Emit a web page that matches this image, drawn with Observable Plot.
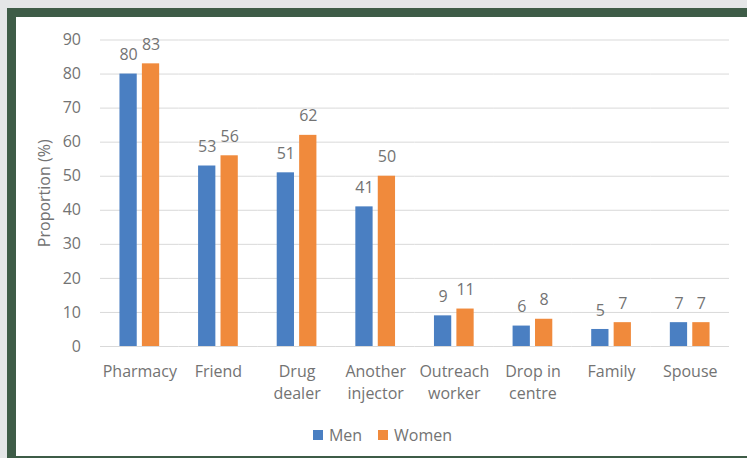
<!DOCTYPE html>
<html>
<head>
<meta charset="utf-8">
<script src="https://cdn.jsdelivr.net/npm/d3@7"></script>
<script src="https://cdn.jsdelivr.net/npm/@observablehq/plot@0.6"></script>
<style>
  html, body { margin: 0; padding: 0; }
  body { width: 747px; height: 458px; background: #e4e6e7; position: relative; overflow: hidden; font-family: 'Open Sans', sans-serif; }
  #frame { position: absolute; left: 7px; top: 8px; width: 740px; height: 450px; background: #3e5c47; }
  #panel { position: absolute; left: 16px; top: 17px; width: 731px; height: 439px; background: #ffffff; }
  #chart { position: absolute; left: 16px; top: 17px; }
  #legend { position: absolute; left: 0; top: 424px; width: 747px; display: flex; justify-content: center; align-items: center; font-size: 16px; color: #737373; padding-left: 18px; box-sizing: border-box; }
  .sw { display: inline-block; width: 10px; height: 10px; margin-right: 6px; }
  .item { display: inline-flex; align-items: center; margin: 0 8px; }
</style>
</head>
<body>
<div id="frame"></div>
<div id="panel"></div>
<div id="chart"></div>
<div id="legend"></div>
<script>
const categories = ["Pharmacy", "Friend", "Drug\ndealer", "Another\ninjector", "Outreach\nworker", "Drop in\ncentre", "Family", "Spouse"];
const seriesNames = ["Men", "Women"];
const men = [80, 53, 51, 41, 9, 6, 5, 7];
const women = [83, 56, 62, 50, 11, 8, 7, 7];
const yTicks = [0, 10, 20, 30, 40, 50, 60, 70, 80, 90];
const colors = ["#4a7fc2", "#f08a3c"];
const textColor = "#737373";

const data = categories.flatMap((c, i) => [
  {cat: c, series: "Men", value: men[i]},
  {cat: c, series: "Women", value: women[i]}
]);

const fxPadInner = 0.495, fxPadOuter = 0.2475;
const plotW = 729, mL = 84, mR = 16;
const step = (plotW - mL - mR) / (categories.length - fxPadInner + 2 * fxPadOuter);
const gridExtend = -step * fxPadInner / 2;

const chart = Plot.plot({
  width: plotW,
  height: 395,
  marginLeft: mL,
  marginRight: mR,
  marginTop: 22.5,
  marginBottom: 66,
  style: {fontFamily: "'Open Sans', sans-serif", fontSize: "16px", color: textColor, background: "transparent", overflow: "visible"},
  fx: {domain: categories, paddingInner: fxPadInner, paddingOuter: fxPadOuter, round: false, label: null},
  x: {domain: seriesNames, paddingInner: 0.23, paddingOuter: 0, round: false, axis: null},
  y: {domain: [0, 90], label: null},
  color: {domain: seriesNames, range: colors},
  marks: [
    Plot.ruleY(yTicks, {stroke: "#d9d9d9", strokeWidth: 1, insetLeft: gridExtend, insetRight: gridExtend}),
    Plot.barY(data, {fx: "cat", x: "series", y: "value", fill: "series"}),
    Plot.text(data, {fx: "cat", x: "series", y: "value", text: d => String(d.value), dy: -19, fill: textColor}),
    Plot.axisY(yTicks, {tickSize: 0, tickPadding: 39, label: null, fill: textColor}),
    Plot.axisFx({anchor: "bottom", tickSize: 0, tickPadding: 15, label: null, lineHeight: 1.375, fill: textColor}),
    Plot.text(["Proportion (%)"], {frameAnchor: "left", textAnchor: "middle", rotate: -90, dx: -75, dy: 0, fill: textColor, facet: "super"})
  ]
});
document.getElementById("chart").appendChild(chart);

const legend = document.getElementById("legend");
seriesNames.forEach((s, i) => {
  const item = document.createElement("span");
  item.className = "item";
  const sw = document.createElement("span");
  sw.className = "sw";
  sw.style.background = colors[i];
  item.appendChild(sw);
  item.appendChild(document.createTextNode(s));
  legend.appendChild(item);
});
</script>
</body>
</html>
